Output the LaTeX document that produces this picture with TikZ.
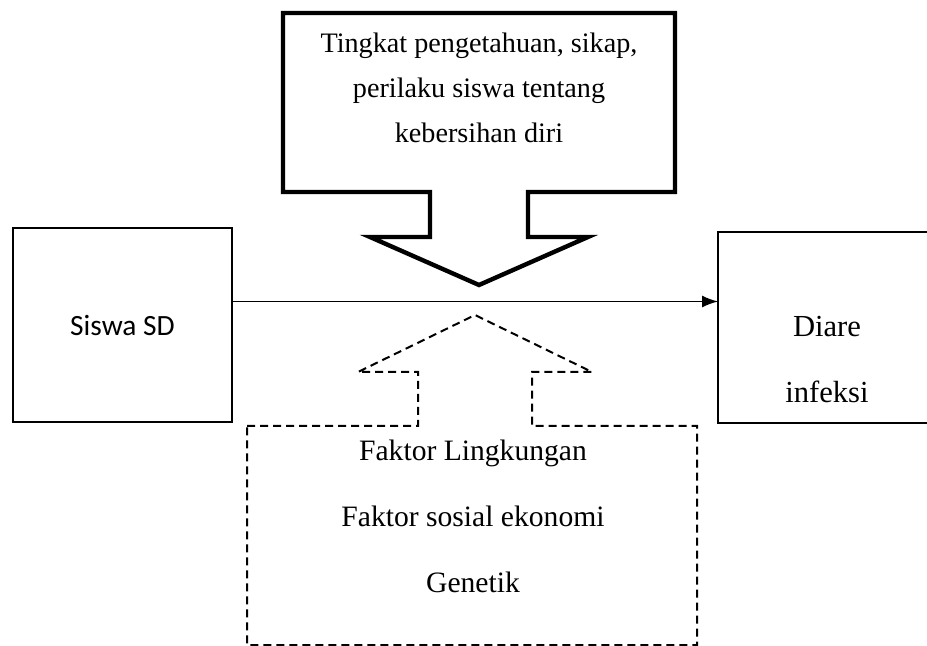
\documentclass[tikz,border=0pt]{standalone}
\usepackage{fontspec}
\setmainfont{Liberation Serif}
\newfontfamily\calibri{Carlito}
\usetikzlibrary{arrows.meta, positioning, calc}
\tikzstyle{subject} = [rectangle, minimum width=109.5pt, minimum height=97pt, text centered, draw=black, line width=0.9pt, font=\calibri\fontsize{14.7}{18}\selectfont]
\tikzstyle{outcome} = [rectangle, text centered, align=center, font=\fontsize{15.3}{33}\selectfont]
\tikzstyle{factor} = [rectangle, text centered, align=center]
\tikzstyle{callout} = [line width=2.2pt, line join=miter]
\tikzstyle{other} = [line width=1pt, dash pattern=on 4pt off 2.5pt]
\tikzstyle{arrow} = [line width=0.7pt, -{Latex[length=8pt, width=6pt]}]

\begin{document}
\begin{tikzpicture}[x=0.5pt, y=-0.5pt]
\useasboundingbox (0,0) rectangle (927,646);

\node (siswa) [subject] at (122.5,325) {Siswa SD};

\node (diare) [outcome] at (827,360) {Diare\\infeksi};
\draw [line width=0.9pt] (927,232) -- (718,232) -- (718,423) -- (927,423);
\coordinate (diarein) at (718,302);

% knowledge, attitude, behaviour
\draw [callout] (283,13) -- (675,13) -- (675,192) -- (528,192) -- (528,237) -- (588,237)
  -- (479,285) -- (370,237) -- (430,237) -- (430,192) -- (283,192) -- cycle;
\node (know) [factor, font=\fontsize{14.1}{22.5}\selectfont] at (479,88)
  {Tingkat pengetahuan, sikap,\\perilaku siswa tentang\\kebersihan diri};

% other factors
\draw [other] (247,426) -- (418,426) -- (418,372) -- (358,372) -- (475,315) -- (592,372)
  -- (532,372) -- (532,426) -- (697,426) -- (697,645) -- (247,645) -- cycle;
\node (others) [factor, font=\fontsize{14.8}{33}\selectfont] at (473,516)
  {Faktor Lingkungan\\Faktor sosial ekonomi\\Genetik};

\coordinate (start) at ($(siswa.north east)!0.38!(siswa.south east)$);
\draw [arrow] (start) -- (start -| diarein);
\end{tikzpicture}
\end{document}
